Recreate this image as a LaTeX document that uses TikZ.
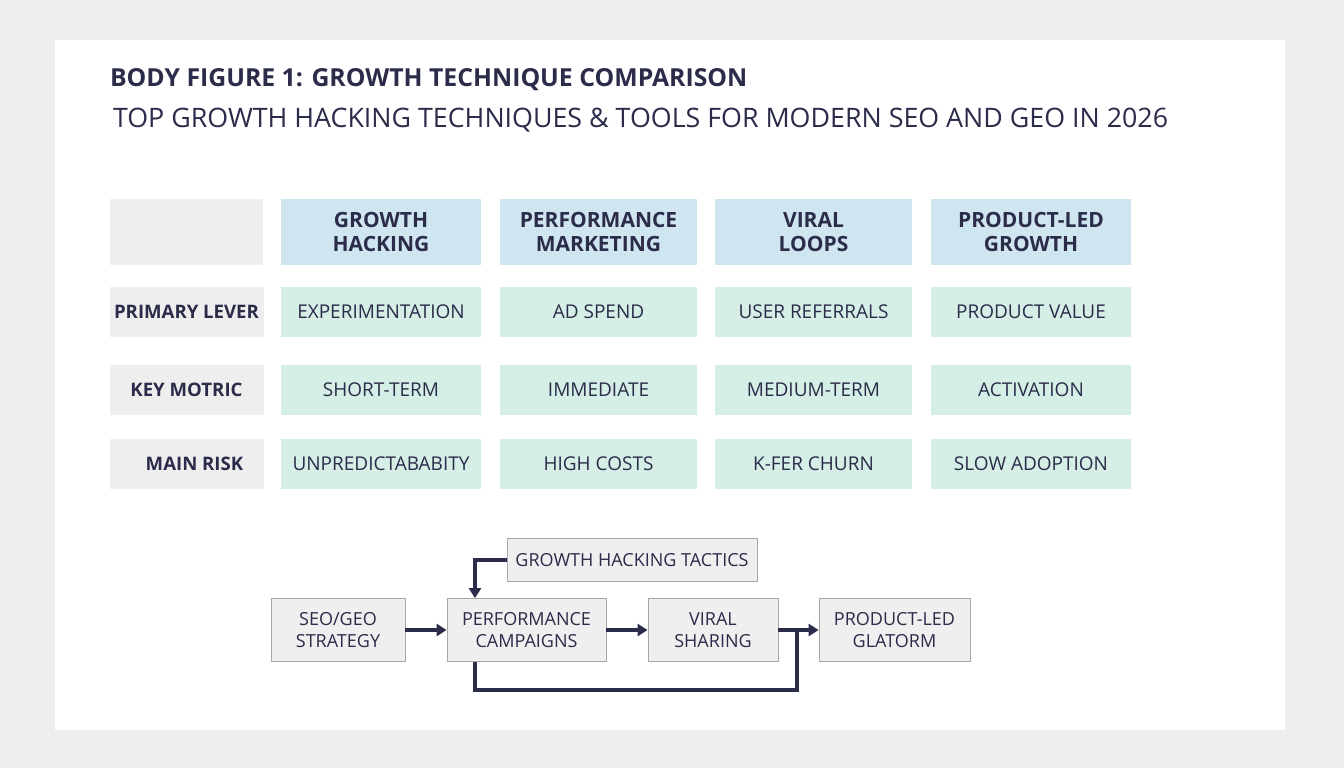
\documentclass[tikz,border=0pt]{standalone}
\usepackage{fontspec}
\setmainfont{Open Sans}
\usetikzlibrary{arrows.meta, positioning}
\definecolor{ink}{HTML}{2B2B4A}
\definecolor{headblue}{HTML}{CFE6F0}
\definecolor{cellmint}{HTML}{D5EFE6}
\definecolor{labgrey}{HTML}{EEEEEE}
\definecolor{flowgrey}{HTML}{EFEFEF}
\begin{document}
\begin{tikzpicture}[x=0.5pt,y=-0.5pt]

    % Define styles
    \tikzstyle{head} = [rectangle, fill=headblue, text=ink, align=center, font=\fontsize{10.5}{12}\selectfont\bfseries, minimum height=33pt, minimum width=100pt, inner sep=0pt]
    \tikzstyle{cell} = [rectangle, fill=cellmint, text=ink, align=center, font=\fontsize{9.5}{11}\selectfont, minimum height=25pt, minimum width=100pt, inner sep=0pt]
    \tikzstyle{rowlab} = [rectangle, fill=labgrey, text=ink, align=center, font=\fontsize{9.3}{11}\selectfont\bfseries, minimum height=25pt, minimum width=77pt, inner sep=0pt]
    \tikzstyle{flowbox} = [rectangle, draw=black!35, fill=flowgrey, text=ink, align=center, font=\fontsize{9}{11}\selectfont, minimum height=31.5pt, inner sep=0pt]
    \tikzstyle{flow} = [ink, line width=1.6pt, -{Triangle[length=5pt,width=6pt]}]

    % Background and panel
    \fill[labgrey] (0,0) rectangle (1344,768);
    \fill[white] (55,40) rectangle (1285,730);

    % Titles
    \node[anchor=west, text=ink, font=\fontsize{12.4}{14}\selectfont\bfseries] (title) at (103,80) {BODY FIGURE 1: GROWTH TECHNIQUE COMPARISON};
    \node[anchor=west, text=ink, font=\fontsize{13.4}{16}\selectfont] (subtitle) at (106,120) {TOP GROWTH HACKING TECHNIQUES \& TOOLS FOR MODERN SEO AND GEO IN 2026};

    % Header row
    \fill[labgrey] (110,199) rectangle (263,265);
    \node[head] (hGH) at (381,232) {GROWTH\\HACKING};
    \node[head, minimum width=98.5pt] (hPM) at (598.5,232) {PERFORMANCE\\MARKETING};
    \node[head, minimum width=98.5pt] (hVL) at (813.5,232) {VIRAL\\LOOPS};
    \node[head] (hPL) at (1031,232) {PRODUCT-LED\\GROWTH};

    % Row labels
    \node[rowlab] (lLever) at (186.5,312) {PRIMARY LEVER};
    \node[rowlab] (lMetric) at (186.5,390) {KEY MOTRIC};
    \node[rowlab] (lRisk) at (186.5,464) {\hspace{8pt}MAIN RISK};

    % Cells
    \node[cell] (c11) at (381,312) {EXPERIMENTATION};
    \node[cell, minimum width=98.5pt] (c12) at (598.5,312) {AD SPEND};
    \node[cell, minimum width=98.5pt] (c13) at (813.5,312) {USER REFERRALS};
    \node[cell] (c14) at (1031,312) {PRODUCT VALUE};
    \node[cell] (c21) at (381,390) {SHORT-TERM};
    \node[cell, minimum width=98.5pt] (c22) at (598.5,390) {IMMEDIATE};
    \node[cell, minimum width=98.5pt] (c23) at (813.5,390) {MEDIUM-TERM};
    \node[cell] (c24) at (1031,390) {ACTIVATION};
    \node[cell] (c31) at (381,464) {UNPREDICTABABITY};
    \node[cell, minimum width=98.5pt] (c32) at (598.5,464) {HIGH COSTS};
    \node[cell, minimum width=98.5pt] (c33) at (813.5,464) {K-FER CHURN};
    \node[cell] (c34) at (1031,464) {SLOW ADOPTION};

    % Flow boxes
    \node[flowbox, minimum width=67pt] (seo) at (338,630) {SEO/GEO\\STRATEGY};
    \node[flowbox, minimum width=79.5pt] (perf) at (526.5,630) {PERFORMANCE\\CAMPAIGNS};
    \node[flowbox, minimum width=65pt] (viral) at (713,630) {VIRAL\\SHARING};
    \node[flowbox, minimum width=75.5pt] (prod) at (894.5,630) {PRODUCT-LED\\GLATORM};
    \node[flowbox, minimum width=125pt, minimum height=21.5pt] (tactics) at (632,560) {GROWTH HACKING TACTICS};
    \coordinate (loopEnd) at (797,628);

    % Flows
    \draw[flow] (seo) -- (perf);
    \draw[flow] (perf) -- (viral);
    \draw[flow] (viral) -- (prod);
    \draw[flow] (tactics.west) -| (perf.north -| 475,0);
    \draw[ink, line width=1.6pt] (perf.south -| 475,0) |- (797,690) -- (loopEnd);

\end{tikzpicture}
\end{document}
